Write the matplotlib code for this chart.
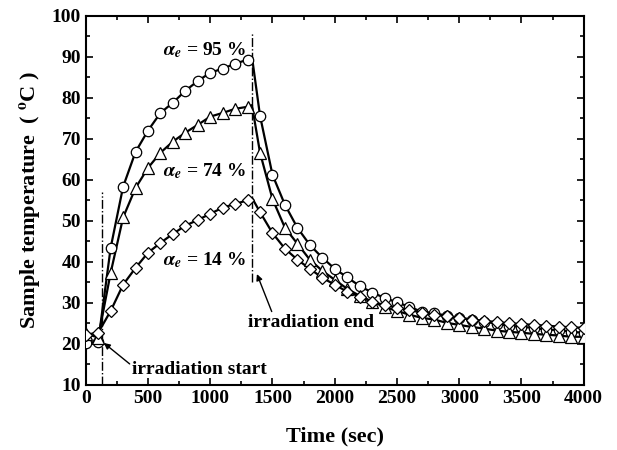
import numpy as np
import matplotlib.pyplot as plt
from matplotlib.ticker import MultipleLocator

plt.rcParams['font.family'] = ['Liberation Serif', 'DejaVu Serif']
plt.rcParams['font.weight'] = 'bold'
plt.rcParams['mathtext.fontset'] = 'stix'

# sampling times (s) of the plotted markers
time = np.arange(0, 4001, 100)

# alpha_e = 95 %
temp_95 = [20.2, 20.5, 43.4, 58.3, 66.8, 72.0, 76.3, 78.8, 81.7, 84.1, 86.1,
           87.1, 88.3, 89.3, 75.6, 61.2, 53.9, 48.3, 44.1, 41.0, 38.3,
           36.2, 34.1, 32.5, 31.2, 30.1, 29.0, 27.8, 27.5, 26.8, 26.3,
           25.9, 25.4, 24.9, 24.4, 24.1, 23.9, 23.4, 23.4, 22.9, 22.7]
# alpha_e = 74 %
temp_74 = [22.5, 21.5, 37.3, 50.8, 58.0, 62.9, 66.6, 69.3, 71.5, 73.4, 75.4,
           76.3, 77.3, 77.8, 66.6, 55.3, 48.3, 44.4, 40.5, 37.8, 35.6,
           33.4, 31.7, 30.3, 29.0, 28.0, 27.1, 26.3, 25.9, 25.1, 24.6,
           24.1, 23.7, 23.2, 22.9, 22.7, 22.4, 22.2, 22.0, 21.7, 21.7]
# alpha_e = 14 %
temp_14 = [22.2, 22.7, 28.0, 34.4, 38.5, 42.2, 44.6, 46.8, 48.8, 50.2, 51.7,
           53.2, 54.1, 55.0, 52.1, 47.0, 43.2, 40.5, 38.3, 36.1, 34.4,
           32.7, 31.5, 30.2, 29.5, 28.8, 28.2, 27.6, 27.1, 26.7, 26.3,
           25.9, 25.6, 25.3, 25.0, 24.8, 24.6, 24.4, 24.2, 24.0, 23.9]

# end of irradiation: peak values just before the drop
t_on, t_off = 130, 1335
peak_95, peak_74, peak_14 = 90.0, 78.2, 55.6

fig, ax = plt.subplots(figsize=(6.17, 4.5), dpi=100)
fig.subplots_adjust(left=0.139, right=0.946, top=0.965, bottom=0.145)

series = [(temp_95, peak_95, 'o', 7.5),
          (temp_74, peak_74, '^', 8),
          (temp_14, peak_14, 'D', 6)]
for vals, peak, mk, ms in series:
    vals = np.array(vals)
    i = np.searchsorted(time, t_off)
    t_line = np.insert(time.astype(float), i, t_off)
    v_line = np.insert(vals, i, peak)
    ax.plot(t_line, v_line, color='black', lw=1.6, zorder=2)
    ax.plot(time, vals, linestyle='none', marker=mk, ms=ms,
            mfc='white', mec='black', mew=0.9, zorder=3)

# irradiation start / end markers
ax.plot([t_on, t_on], [10, 57], color='black', lw=1, ls='-.', zorder=1)
ax.plot([t_off, t_off], [35, 96], color='black', lw=1, ls='-.', zorder=1)

for label, y in [('95', 91.7), ('74', 62.0), ('14', 40.5)]:
    ax.text(620, y, r'$\alpha_e$' + ' = ' + label + ' %', fontsize=14,
            va='center')

ax.annotate('irradiation end', xy=(1375, 37.0), xytext=(1300, 25.1),
            fontsize=14, va='center', ha='left',
            arrowprops=dict(arrowstyle='-|>', color='black', lw=1,
                            mutation_scale=9, shrinkA=0, shrinkB=0,
                            relpos=(0.2, 1.0)))
ax.annotate('irradiation start', xy=(145, 20.2), xytext=(375, 13.7),
            fontsize=14, va='center', ha='left',
            arrowprops=dict(arrowstyle='-|>', color='black', lw=1,
                            mutation_scale=9, shrinkA=0, shrinkB=0,
                            relpos=(0.0, 0.7)))

ax.set_xlim(0, 4000)
ax.set_ylim(10, 100)
ax.xaxis.set_major_locator(MultipleLocator(500))
ax.xaxis.set_minor_locator(MultipleLocator(250))
ax.yaxis.set_major_locator(MultipleLocator(10))
ax.yaxis.set_minor_locator(MultipleLocator(5))
ax.tick_params(which='both', direction='in', top=True, right=True,
               labelsize=14, width=1.2)
ax.tick_params(which='major', length=5)
ax.tick_params(which='minor', length=3)
for s in ax.spines.values():
    s.set_linewidth(1.5)

ax.set_xlabel('Time (sec)', fontsize=16, fontweight='bold', labelpad=14)
ax.set_ylabel(r'Sample temperature  ( $^{\mathbf{o}}$C )', fontsize=16,
              fontweight='bold', labelpad=6)

plt.savefig('out.png', dpi=100)
